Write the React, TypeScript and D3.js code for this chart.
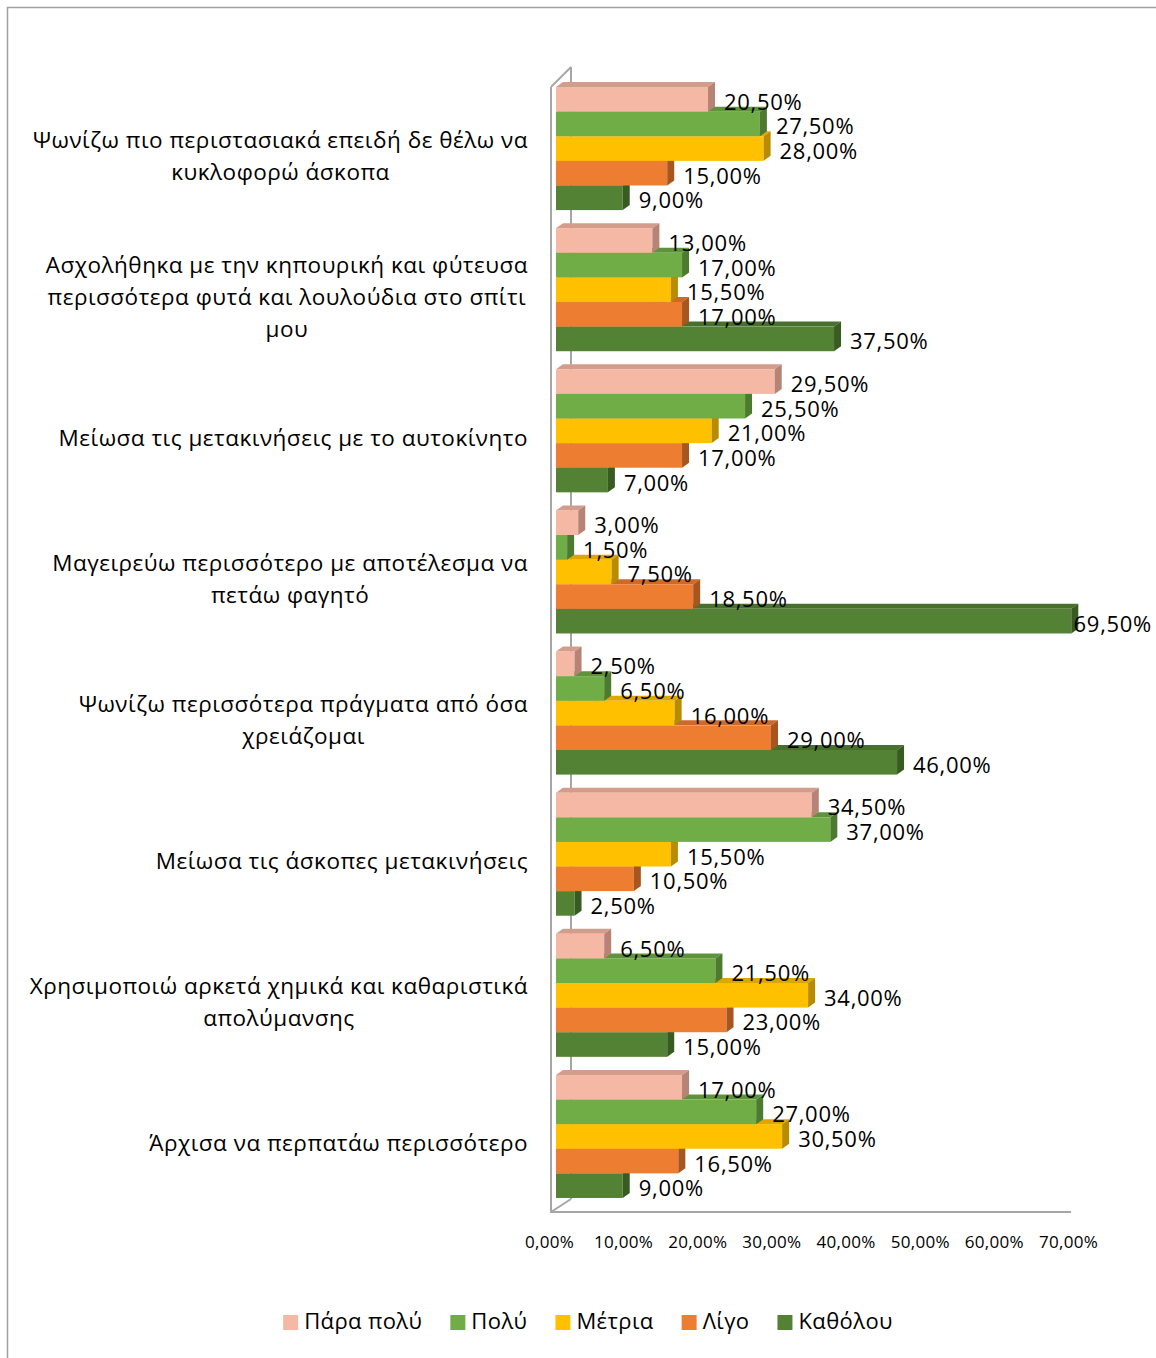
import { useEffect, useRef } from 'react';
import * as d3 from 'd3';

// Chart data
const categories = [
  "Ψωνίζω πιο περιστασιακά επειδή δε θέλω να\nκυκλοφορώ άσκοπα",
  "Ασχολήθηκα με την κηπουρική και φύτευσα\nπερισσότερα φυτά και λουλούδια στο σπίτι\nμου",
  "Μείωσα τις μετακινήσεις με το αυτοκίνητο",
  "Μαγειρεύω περισσότερο με αποτέλεσμα να\nπετάω φαγητό",
  "Ψωνίζω περισσότερα πράγματα από όσα\nχρειάζομαι",
  "Μείωσα τις άσκοπες μετακινήσεις",
  "Χρησιμοποιώ αρκετά χημικά και καθαριστικά\nαπολύμανσης",
  "Άρχισα να περπατάω περισσότερο",
];
const seriesNames = ["Πάρα πολύ", "Πολύ", "Μέτρια", "Λίγο", "Καθόλου"];
const paraPoly = [20.5, 13.0, 29.5, 3.0, 2.5, 34.5, 6.5, 17.0];
const poly = [27.5, 17.0, 25.5, 1.5, 6.5, 37.0, 21.5, 27.0];
const metria = [28.0, 15.5, 21.0, 7.5, 16.0, 15.5, 34.0, 30.5];
const ligo = [15.0, 17.0, 17.0, 18.5, 29.0, 10.5, 23.0, 16.5];
const katholou = [9.0, 37.5, 7.0, 69.5, 46.0, 2.5, 15.0, 9.0];
const tickValues = [0, 10, 20, 30, 40, 50, 60, 70];

// Colors: front face, top face, side face
const COLORS = ["#F4B8A5", "#70AD47", "#FFC000", "#ED7D31", "#548235"];
const TOP_COLORS = ["#D39C8B", "#5E933B", "#DDA600", "#CC6A29", "#46702B"];
const SIDE_COLORS = ["#B78374", "#4C7A2F", "#B88B00", "#A8561F", "#385B22"];
const WALL = "#A6A6A6";
const FONT = "'Open Sans', sans-serif";

const W = 1156;
const H = 1358;
const DX = 7;
const DY = 5;

const pct = (v: number) => d3.format(".2f")(v).replace(".", ",") + "%";

export default function App() {
  const ref = useRef<SVGSVGElement>(null);

  useEffect(() => {
    if (!ref.current) return;
    const svg = d3.select(ref.current);
    svg.selectAll("*").remove();

    const values = [paraPoly, poly, metria, ligo, katholou];

    const x = d3.scaleLinear().domain([0, 70]).range([556, 1075]);
    const y = d3.scaleBand<number>()
      .domain(d3.range(categories.length))
      .range([78, 1207])
      .paddingInner(0.128)
      .paddingOuter(0.064);
    const ys = d3.scaleBand<number>()
      .domain(d3.range(seriesNames.length))
      .range([0, y.bandwidth()]);

    // outer border
    svg.append("rect")
      .attr("x", 7.5).attr("y", 7.5)
      .attr("width", 1200).attr("height", 1400)
      .attr("fill", "none").attr("stroke", "#A0A0A0").attr("stroke-width", 1.5);

    // 3D walls
    const walls = svg.append("g").attr("fill", "none").attr("stroke", WALL).attr("stroke-width", 2);
    walls.append("path").attr("d", "M571,67 L571,1199");
    walls.append("path").attr("d", "M551,87 L571,67");
    walls.append("path").attr("d", "M551,1212 L571,1199");
    walls.append("path").attr("d", "M551,87 L551,1212 L1071,1212");

    // bars, drawn bottom-up so upper bars hide lower top faces
    const bars = svg.append("g");
    for (let g = categories.length - 1; g >= 0; g--) {
      for (let s = seriesNames.length - 1; s >= 0; s--) {
        const v = values[s][g];
        const x0 = x(0);
        const x1 = x(v);
        const y0 = (y(g) as number) + (ys(s) as number);
        const y1 = y0 + ys.bandwidth();
        bars.append("path")
          .attr("d", `M${x0},${y0} L${x0 + DX},${y0 - DY} L${x1 + DX},${y0 - DY} L${x1},${y0} Z`)
          .attr("fill", TOP_COLORS[s]);
        bars.append("rect")
          .attr("x", x0).attr("y", y0)
          .attr("width", x1 - x0).attr("height", y1 - y0)
          .attr("fill", COLORS[s]);
        bars.append("path")
          .attr("d", `M${x1},${y0} L${x1 + DX},${y0 - DY} L${x1 + DX},${y1 - DY} L${x1},${y1} Z`)
          .attr("fill", SIDE_COLORS[s]);
      }
    }

    // value labels
    const labels = svg.append("g")
      .attr("font-family", FONT).attr("font-size", 22).attr("letter-spacing", 0.7).attr("fill", "#000");
    categories.forEach((_, g) => {
      seriesNames.forEach((_, s) => {
        const v = values[s][g];
        const yc = (y(g) as number) + (ys(s) as number) + ys.bandwidth() / 2;
        const t = labels.append("text")
          .attr("x", x(v) + 16)
          .attr("y", yc + 10.5)
          .text(pct(v));
        const w = (t.node() as SVGTextElement).getComputedTextLength();
        if (x(v) + 16 + w > 1152) t.attr("x", 1152 - w);
      });
    });

    // category labels, centered block right-aligned at 528
    const cats = svg.append("g")
      .attr("font-family", FONT).attr("font-size", 22.5).attr("letter-spacing", 0.5).attr("fill", "#000");
    categories.forEach((c, g) => {
      const lines = c.split("\n");
      const yc = (y(g) as number) + y.bandwidth() / 2;
      const t = cats.append("text").attr("text-anchor", "middle");
      const spans = lines.map((ln, i) =>
        t.append("tspan")
          .attr("y", yc + 15 + (i - (lines.length - 1) / 2) * 32)
          .text(ln)
      );
      const maxW = d3.max(spans, (sp) => (sp.node() as SVGTSpanElement).getComputedTextLength()) || 0;
      spans.forEach((sp) => sp.attr("x", 528 - maxW / 2));
    });

    // axis tick labels
    svg.append("g")
      .attr("font-family", FONT).attr("font-size", 17).attr("letter-spacing", 0.3)
      .attr("text-anchor", "middle").attr("fill", "#000")
      .selectAll("text")
      .data(tickValues)
      .join("text")
      .attr("x", (d) => x(d) - 6.5)
      .attr("y", 1248)
      .text((d) => pct(d));

    // legend
    const legend = svg.append("g")
      .attr("font-family", FONT).attr("font-size", 22).attr("letter-spacing", 0.4).attr("fill", "#000");
    let cx = 0;
    const items = seriesNames.map((name, i) => {
      const it = legend.append("g");
      it.append("rect").attr("x", 0).attr("y", 1315).attr("width", 15).attr("height", 15).attr("fill", COLORS[i]);
      const t = it.append("text").attr("x", 21).attr("y", 1329).text(name);
      const w = 21 + (t.node() as SVGTextElement).getComputedTextLength();
      const pos = cx;
      cx += w + 28;
      return { it, pos, w };
    });
    const total = cx - 28;
    const start = 588 - total / 2;
    items.forEach(({ it, pos }) => it.attr("transform", `translate(${start + pos},0)`));
  }, []);

  return (
    <div style={{ position: "absolute", left: 0, top: 0, width: W, height: H, background: "#fff" }}>
      <svg ref={ref} width={W} height={H} style={{ display: "block" }} />
    </div>
  );
}
